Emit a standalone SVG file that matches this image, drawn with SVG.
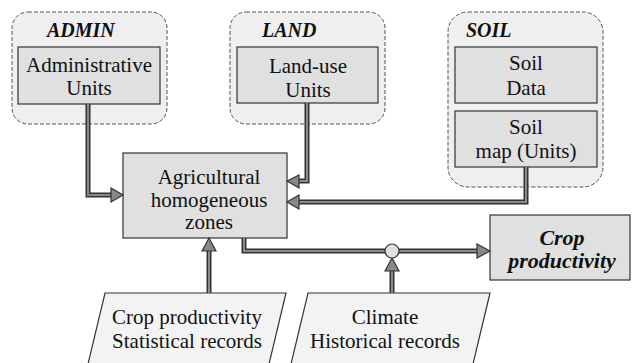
<svg xmlns="http://www.w3.org/2000/svg" width="635" height="363" viewBox="0 0 635 363">
<style>
.grp{fill:#efefef;stroke:#555;stroke-width:1;stroke-dasharray:4,2}
.box{fill:#e0e0e0;stroke:#333;stroke-width:1.2}
.para{fill:#f3f3f3;stroke:#333;stroke-width:1.2}
.t{font-size:21px;fill:#111;text-anchor:middle}
.h{font-size:20px;font-weight:bold;font-style:italic;fill:#111}
.hb{font-size:22px;font-weight:bold;font-style:italic;fill:#111;text-anchor:middle}
.lo{fill:none;stroke:#333;stroke-width:5;stroke-linejoin:miter}
.li{fill:none;stroke:#8a8a8a;stroke-width:2;stroke-linejoin:miter}
.ah{fill:#888;stroke:#333;stroke-width:1.2}
</style>
<g font-family="Liberation Serif, Times New Roman, serif">
<g id="admin">
<rect class="grp" x="12" y="12" width="155" height="112" rx="16"/>
<text class="h" x="47" y="37">ADMIN</text>
<rect class="box" x="18" y="47" width="142" height="57"/>
<text class="t" x="89" y="72">Administrative</text>
<text class="t" x="89" y="95">Units</text>
</g>
<g id="land">
<rect class="grp" x="230" y="12" width="155" height="112" rx="16"/>
<text class="h" x="262" y="37">LAND</text>
<rect class="box" x="237" y="47" width="141" height="56"/>
<text class="t" x="308" y="73">Land-use</text>
<text class="t" x="308" y="97">Units</text>
</g>
<g id="soil">
<rect class="grp" x="448" y="12" width="155" height="175" rx="20"/>
<text class="h" x="466" y="37">SOIL</text>
<rect class="box" x="455" y="47" width="142" height="56"/>
<text class="t" x="526" y="70">Soil</text>
<text class="t" x="526" y="95">Data</text>
<rect class="box" x="455" y="111" width="142" height="56"/>
<text class="t" x="526" y="134">Soil</text>
<text class="t" x="526" y="158">map (Units)</text>
</g>
<g id="agri">
<rect class="box" x="123" y="153" width="164" height="85"/>
<text class="t" x="209" y="184">Agricultural</text>
<text class="t" x="209" y="207">homogeneous</text>
<text class="t" x="209" y="229">zones</text>
</g>
<g id="crop">
<rect class="box" x="490" y="215" width="140" height="65"/>
<text class="hb" x="562" y="245">Crop</text>
<text class="hb" x="562" y="268">productivity</text>
</g>
<g id="stat">
<polygon class="para" points="105,293 286,293 269,364 88,364"/>
<text class="t" x="187" y="324">Crop productivity</text>
<text class="t" x="187" y="348">Statistical records</text>
</g>
<g id="climate">
<polygon class="para" points="308,293 490,293 473,364 291,364"/>
<text class="t" x="385" y="324">Climate</text>
<text class="t" x="385" y="348">Historical records</text>
</g>
</g>
<g id="connectors">
<path class="lo" d="M88,104 V195 H111"/>
<path class="li" d="M88,104 V195 H111"/>
<polygon class="ah" points="111,188 123,195 111,202"/>
<path class="lo" d="M307,103 V181 H299"/>
<path class="li" d="M307,103 V181 H299"/>
<polygon class="ah" points="299,175 287,181 299,188"/>
<path class="lo" d="M526,167 V202 H299"/>
<path class="li" d="M526,167 V202 H299"/>
<polygon class="ah" points="299,195 287,202 299,209"/>
<path class="lo" d="M244,238 V251 H477"/>
<path class="li" d="M244,238 V251 H477"/>
<polygon class="ah" points="477,244 490,251 477,258"/>
<path class="lo" d="M209,293 V251"/>
<path class="li" d="M209,293 V251"/>
<polygon class="ah" points="202,251 209,238 216,251"/>
<path class="lo" d="M392,293 V271"/>
<path class="li" d="M392,293 V271"/>
<polygon class="ah" points="385,271 392,258 399,271"/>
<circle cx="392" cy="251" r="7" fill="#e0e0e0" stroke="#333" stroke-width="1.2"/>
</g>
</svg>
